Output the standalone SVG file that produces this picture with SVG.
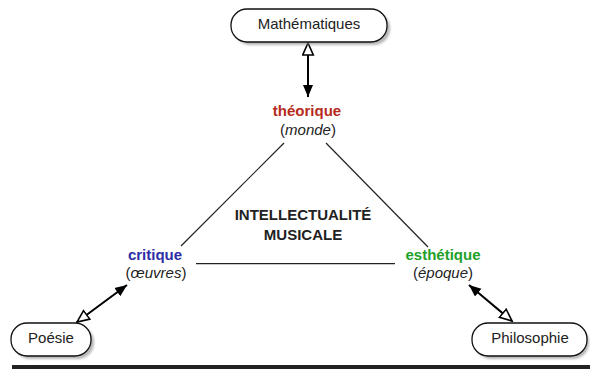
<svg xmlns="http://www.w3.org/2000/svg" width="590" height="369" viewBox="0 0 590 369">
<style>
.box{fill:#fff;stroke:#111;stroke-width:1.3}
.shadow{fill:#888;opacity:0.6;filter:url(#blur)}
.lbl{font-family:"Liberation Sans",Arial,sans-serif;font-size:15px;fill:#222;text-anchor:middle}
.b{font-weight:bold}
.it{font-style:italic}
.edge{stroke:#222;stroke-width:1.2;fill:none}
.arr{stroke:#000;stroke-width:2;fill:none;marker-start:url(#hollow);marker-end:url(#filled)}
</style>
<defs>
<filter id="blur" x="-10%" y="-20%" width="120%" height="140%"><feGaussianBlur stdDeviation="1.2"/></filter>
<marker id="filled" markerUnits="userSpaceOnUse" markerWidth="13" markerHeight="11" refX="12" refY="5.5" orient="auto"><path d="M0,0.5 L12,5.5 L0,10.5 z" fill="#000"/></marker>
<marker id="hollow" markerUnits="userSpaceOnUse" markerWidth="15" markerHeight="13" refX="13" refY="6.5" orient="auto-start-reverse"><path d="M1,1.2 L13,6.5 L1,11.8 z" fill="#fff" stroke="#000" stroke-width="1.6"/></marker>
</defs>
<rect x="0" y="0" width="590" height="369" fill="#fff"/>
<g id="connectors">
<line class="edge" x1="284" y1="143" x2="181" y2="246"/>
<line class="edge" x1="326" y1="143" x2="428" y2="247"/>
<line class="edge" x1="196" y1="263.6" x2="395" y2="263.6"/>
<line class="arr" x1="308" y1="43" x2="308" y2="97"/>
<line class="arr" x1="77" y1="322" x2="127" y2="285"/>
<line class="arr" x1="512" y1="321" x2="469" y2="285"/>
</g>
<g id="math">
<rect class="shadow" x="234" y="12" width="156" height="33" rx="16"/>
<rect class="box" x="231" y="9" width="156" height="33" rx="16"/>
<text class="lbl" x="309" y="29">Mathématiques</text>
</g>
<g id="poesie">
<rect class="shadow" x="14" y="326" width="80" height="33" rx="16"/>
<rect class="box" x="11" y="323" width="80" height="33" rx="16"/>
<text class="lbl" x="51" y="343">Poésie</text>
</g>
<g id="philo">
<rect class="shadow" x="475" y="326" width="114" height="33" rx="16"/>
<rect class="box" x="472" y="323" width="115" height="33" rx="16"/>
<text class="lbl" x="530" y="343">Philosophie</text>
</g>
<g id="theorique">
<text class="lbl b" x="307" y="116" style="fill:#b52b1c">théorique</text>
<text class="lbl" x="308" y="135">(<tspan class="it">monde</tspan>)</text>
</g>
<g id="critique">
<text class="lbl b" x="155" y="260" style="fill:#2e2ea6">critique</text>
<text class="lbl" x="156" y="278">(<tspan class="it">œuvres</tspan>)</text>
</g>
<g id="esthetique">
<text class="lbl b" x="443" y="260" style="fill:#22a02a">esthétique</text>
<text class="lbl" x="443" y="278">(<tspan class="it">époque</tspan>)</text>
</g>
<g id="centre">
<text class="lbl b" x="303" y="220">INTELLECTUALITÉ</text>
<text class="lbl b" x="303" y="240">MUSICALE</text>
</g>
<rect x="12" y="365" width="578" height="4" fill="#222"/>
</svg>
